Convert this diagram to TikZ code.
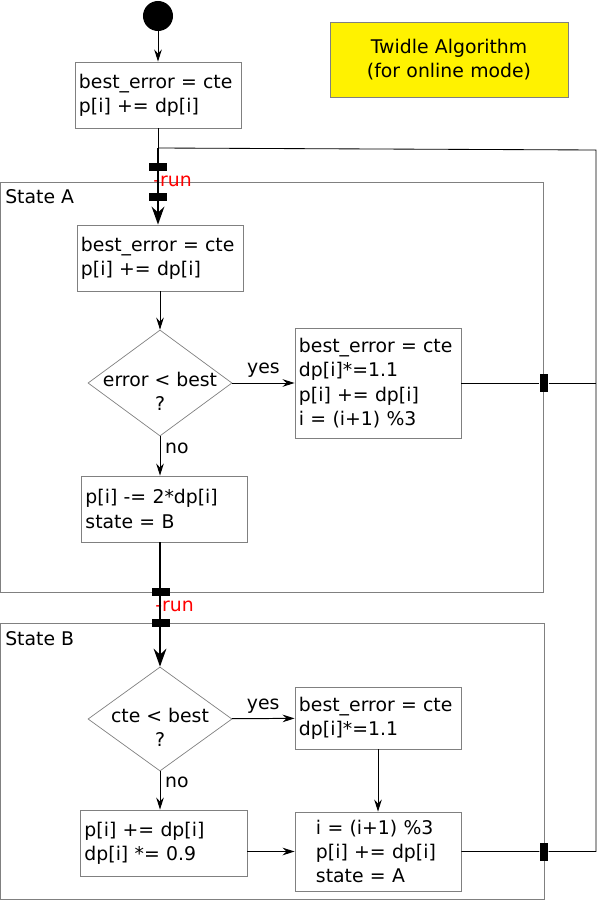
\documentclass[tikz,border=0pt]{standalone}
\usepackage{fontspec}
\setmainfont{DejaVu Sans}
\usetikzlibrary{shapes,arrows.meta,positioning,calc}

\begin{document}
\begin{tikzpicture}[
    x=0.025cm, y=-0.025cm,
    font=\fontsize{13.4}{17.3}\selectfont,
    box/.style={rectangle, draw=gray, line width=0.6pt, minimum width=4.15cm, minimum height=1.65cm, text width=3.95cm, inner xsep=0.1cm, align=left},
    decision/.style={diamond, draw=gray, line width=0.5pt, minimum width=3.6cm, minimum height=2.65cm, inner sep=0},
    statebox/.style={rectangle, draw=gray, line width=0.6pt, inner sep=0},
    bar/.style={rectangle, fill=black, minimum width=0.45cm, minimum height=0.2cm, inner sep=0},
    vbar/.style={bar, minimum width=0.22cm, minimum height=0.45cm},
    arrow/.style={-{Stealth[length=0.3cm, width=0.19cm, inset=0.1cm]}, line width=0.7pt},
    bigarrow/.style={-{Stealth[length=0.45cm, width=0.32cm, inset=0.15cm]}, line width=1.2pt},
    note/.style={anchor=west, inner sep=0}
]
\useasboundingbox (0,0) rectangle (597,914);

% State frames
\node[statebox, minimum width=13.575cm, minimum height=10.25cm] (stateA) at (271.5,387) {};
\node[statebox, minimum width=13.6cm, minimum height=6.9cm] (stateB) at (272,761) {};
\node[note] (nameA) at (5,197) {State A};
\node[note] (nameB) at (5,639) {State B};

% Start and init
\node[circle, fill=black, minimum size=0.75cm, inner sep=0] (start) at (158,16) {};
\node[box] (init) at (158,95) {best\_error = cte\\p[i] += dp[i]};

% Title
\node[box, fill=yellow, minimum width=5.95cm, minimum height=1.875cm, text width=5.6cm, align=center] (title) at (449,59.5) {Twidle Algorithm\\(for online mode)};

% State A
\node[box] (tryA) at (160,258) {best\_error = cte\\p[i] += dp[i]};
\node[decision, label={[align=center, yshift=-0.2cm]center:{error < best\\?}}] (testA) at (160,383) {};
\node[box, minimum height=2.75cm] (goodA) at (378,383) {best\_error = cte\\dp[i]*=1.1\\p[i] += dp[i]\\i = (i+1) \%3};
\node[box] (badA) at (164.5,509) {p[i] -= 2*dp[i]\\state = B};

% State B
\node[decision, minimum height=2.6cm, label={[align=center, yshift=-0.2cm]center:{cte < best\\?}}] (testB) at (160,719) {};
\node[box, minimum height=1.55cm] (goodB) at (378,718) {best\_error = cte\\dp[i]*=1.1};
\node[box, minimum width=4.175cm] (badB) at (163.5,843) {p[i] += dp[i]\\dp[i] *= 0.9};
\node[box, minimum height=1.975cm, text width=3.1cm] (nextB) at (378,851.5) {i = (i+1) \%3\\p[i] += dp[i]\\state = A};

% Run guards
\node[bar] (runA1) at (158,167) {};
\node[bar] (runA2) at (158,197) {};
\node[bar] (runB1) at (161,592) {};
\node[bar] (runB2) at (161,623) {};
\node[note, red] (runA) at (153,181) {-run};
\node[note, red] (runB) at (155,606) {-run};

% Exits
\node[vbar] (exitA) at (544,383) {};
\node[vbar] (exitB) at (544,851.5) {};
\coordinate (join) at (158,148);
\coordinate (loopTop) at (596,150);
\coordinate (loopA) at (596,383);
\coordinate (loopB) at (596,851.5);

% Arrows
\draw[arrow] (start) -- (init);
\draw[line width=0.7pt] (init) -- (join);
\draw[bigarrow] (join) -- (join |- tryA.north);
\draw[arrow] (tryA) -- (testA);
\draw[arrow] (testA) -- node[above] {yes} (goodA);
\draw[arrow] (testA.south) -- node[right, pos=0.3] {no} (testA.south |- badA.north);
\draw[bigarrow] (badA.south -| testB) -- (testB.north);
\draw[arrow] (testB) -- node[above] {yes} (goodB);
\draw[arrow] (goodB) -- (nextB);
\draw[arrow] (testB.south) -- node[right, pos=0.3] {no} (testB.south |- badB.north);
\draw[arrow] (badB.east |- nextB.west) -- (nextB.west);

% Loop back
\draw[line width=0.6pt] (goodA.east) -- (exitA) -- (loopA);
\draw[line width=0.6pt] (nextB.east) -- (exitB) -- (loopB) -- (loopTop) -- (join);

\end{tikzpicture}
\end{document}
